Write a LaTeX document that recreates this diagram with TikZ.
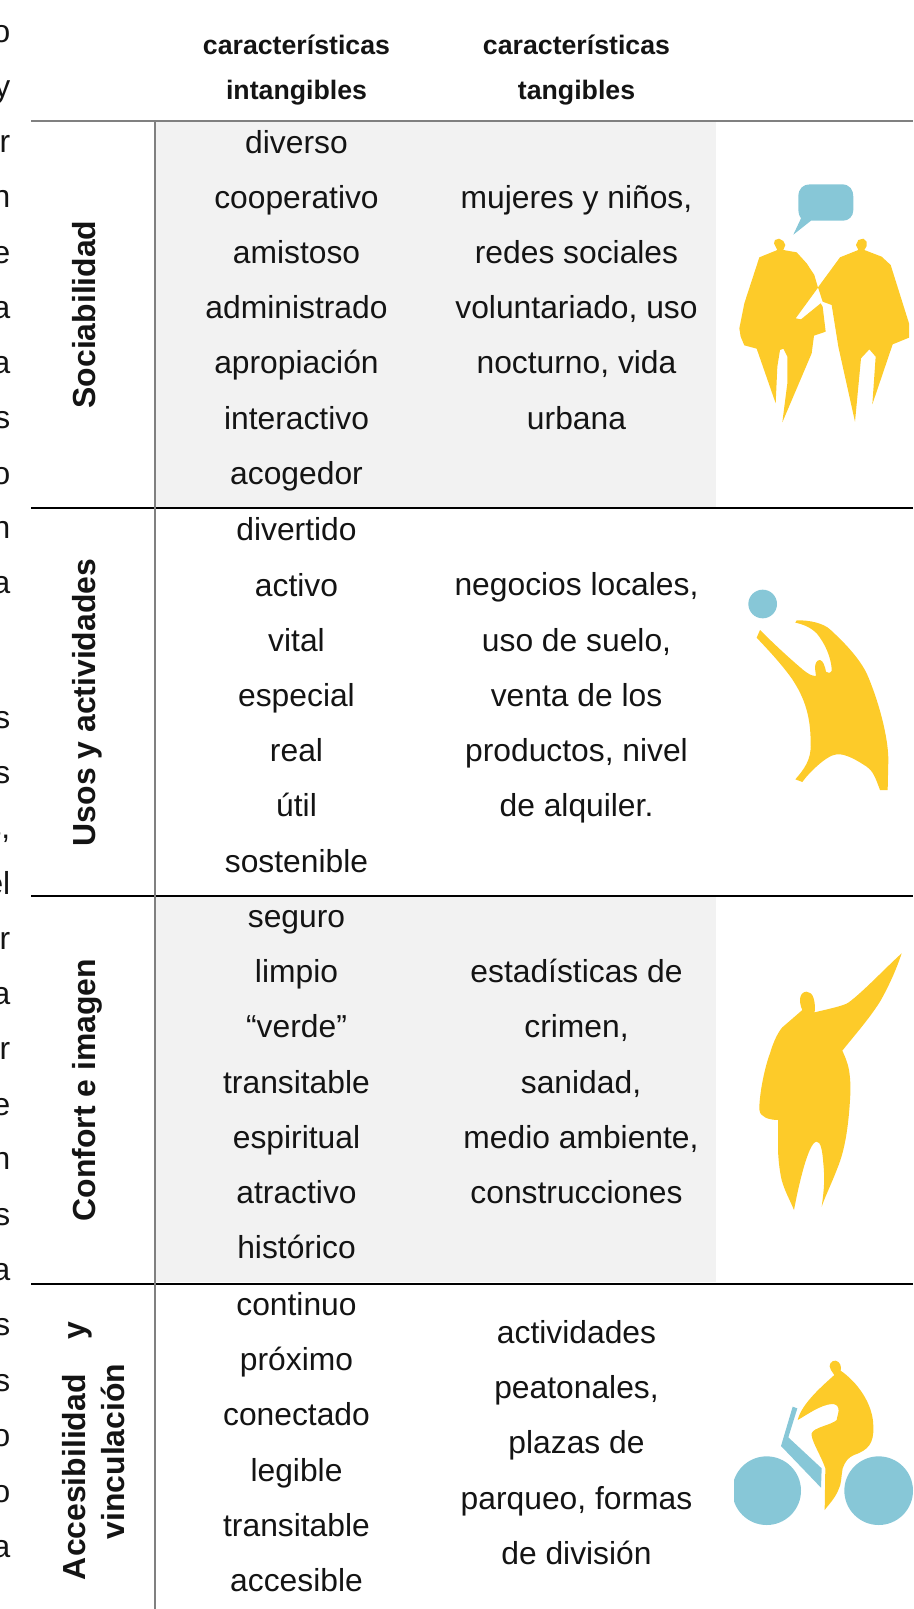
\documentclass[tikz,border=0pt]{standalone}
\usepackage{fontspec}
\setmainfont{Liberation Sans}
\definecolor{fig}{HTML}{FDCB29}
\definecolor{sky}{HTML}{87C7D7}
\definecolor{band}{HTML}{F2F2F2}
\definecolor{rule}{HTML}{808080}
\newcommand{\bodyfont}{\fontsize{31.8}{38}\selectfont}
\newcommand{\headfont}{\fontsize{26.7}{33}\selectfont\bfseries}
\newcommand{\sidefont}{\fontsize{31.9}{37}\selectfont\bfseries}
\tikzset{
  x=1pt,y=-1pt,
  body/.style={anchor=base,inner sep=0pt,font=\bodyfont,text=black!92},
  head/.style={anchor=base,inner sep=0pt,font=\headfont,text=black!92},
  side/.style={anchor=base,inner sep=0pt,font=\sidefont,rotate=90,text=black!92},
  cut/.style={anchor=base east,inner sep=0pt,font=\bodyfont,text=black!92},
  greyrule/.style={draw=rule,line width=1.6pt},
  blackrule/.style={draw=black,line width=1.6pt},
  yellowshape/.style={fill=fig,draw=none},
  blueshape/.style={fill=sky,draw=none},
  tiny3/.style={scale=1/3}
}
\begin{document}
\begin{tikzpicture}
\useasboundingbox (0,0) rectangle (913,1609);
\begin{scope}
\clip (0,0) rectangle (913,1609);
% bands
\fill[band] (156,121) rectangle (716,507);
\fill[band] (156,896) rectangle (716,1282);
% rules
\draw[greyrule] (31,121) -- (913,121);
\draw[blackrule] (31,508) -- (913,508);
\draw[blackrule] (31,896) -- (913,896);
\draw[blackrule] (31,1284) -- (913,1284);
\draw[greyrule] (155,121) -- (155,1609);
% cut-off letters of the neighbouring text
\foreach \yy/\tt [count=\n] in {42/o,97.3/y,152.5/r,207.7/n,263/e,318/a,373/a,428.5/s,484/o,538/n,593.5/a,728/s,783/s,838/{s,},894/el,949/r,1004/a,1059.5/r,1115/e,1169/n,1225/s,1280/a,1335/s,1391/s,1446/o,1502/o,1557/a}
  \node[cut] (cut\n) at (10.5,\yy) {\tt};
% header
\node[head] (h1a) at (296.5,54) {características};
\node[head] (h1b) at (296.5,99.5) {intangibles};
\node[head] (h2a) at (576.5,54) {características};
\node[head] (h2b) at (576.5,99.5) {tangibles};
% side labels
\node[side] (s1) at (95,314.5) {Sociabilidad};
\node[side] (s2) at (95,702.5) {Usos y actividades};
\node[side] (s3) at (95,1090) {Confort e imagen};
\node[side] (s4a) at (85,1451) {\makebox[258pt][s]{Accesibilidad\hfill y}};
\node[side] (s4b) at (124,1451.5) {vinculación};
% column 1
\foreach \tt [count=\n] in {diverso,cooperativo,amistoso,administrado,apropiación,interactivo,acogedor}
  \node[body] (a\n) at (296.5,{153+55.2*(\n-1)}) {\tt};
\foreach \tt [count=\n] in {divertido,activo,vital,especial,real,útil,sostenible}
  \node[body] (b\n) at (296.5,{540.8+55.2*(\n-1)}) {\tt};
\foreach \tt [count=\n] in {seguro,limpio,“verde”,transitable,espiritual,atractivo,histórico}
  \node[body] (c\n) at (296.5,{927.5+55.2*(\n-1)}) {\tt};
\foreach \tt [count=\n] in {continuo,próximo,conectado,legible,transitable,accesible}
  \node[body] (d\n) at (296.5,{1315.5+55.2*(\n-1)}) {\tt};
% column 2
\foreach \tt [count=\n] in {mujeres y niños{,},redes sociales,{voluntariado, uso},{nocturno, vida},urbana}
  \node[body] (e\n) at (576.5,{208.2+55.2*(\n-1)}) {\tt};
\foreach \tt [count=\n] in {negocios locales{,},uso de suelo{,},venta de los,{productos, nivel},de alquiler.}
  \node[body] (f\n) at (576.5,{595.8+55.2*(\n-1)}) {\tt};
\node[body] (g1) at (576.5,982.7) {estadísticas de};
\node[body] (g2) at (576.5,1037.9) {crimen,};
\node[body] (g3) at (581,1093.1) {sanidad,};
\node[body] (g4) at (581,1148.3) {medio ambiente,};
\node[body] (g5) at (576.5,1203.5) {construcciones};
\foreach \tt [count=\n] in {actividades,peatonales{,},plazas de,{parqueo, formas},de división}
  \node[body] (i\n) at (576.5,{1343.5+55.2*(\n-1)}) {\tt};
% figure 1
\begin{scope}[shift={(700,160)},tiny3]
\fill[blueshape] (295,110) .. controls (295,85) and (310,73) .. (330,73) -- (425,73) .. controls (450,73) and (460,90) .. (460,110) -- (460,150) .. controls (460,170) and (445,182) .. (430,182) -- (333,182) -- (280,224) -- (303,175) .. controls (297,165) and (295,160) .. (295,150) -- cycle;
\fill[yellowshape] (222,250) -- (225,240) -- (237,236) -- (250,243) -- (256,255) -- (250,270) -- (290,277) -- (320,310) -- (343,345) -- (354,383) -- (287,475) -- (303,478) -- (362,430) -- (368,440) -- (377,515) -- (342,527) -- (335,580) -- (247,787) -- (262,670) -- (262,590) -- (250,566) -- (240,570) -- (232,620) -- (227,730) -- (170,566) -- (133,556) -- (122,530) -- (118,505) -- (133,430) -- (178,292) -- (232,270) -- cycle;
\fill[yellowshape] (468,255) -- (475,240) -- (490,236) -- (500,245) -- (500,258) -- (493,270) -- (545,290) -- (572,315) -- (627,490) -- (627,533) -- (578,553) -- (517,733) -- (527,590) -- (508,568) -- (483,595) -- (465,785) -- (415,560) -- (395,435) -- (368,425) -- (354,382) -- (420,292) -- (475,270) -- cycle;
\end{scope}
% figure 2
\begin{scope}[shift={(720,570)},tiny3]
\fill[blueshape] (128,102) circle[radius=43];
\fill[yellowshape] (226,158) -- (230,151) .. controls (270,150) and (310,160) .. (330,178) .. controls (370,215) and (415,260) .. (440,310) .. controls (475,390) and (505,500) .. (505,570) -- (503,660) -- (480,660) .. controls (465,620) and (460,605) .. (440,590) .. controls (410,570) and (375,550) .. (350,553) .. controls (320,555) and (265,610) .. (247,636) -- (226,628) .. controls (250,600) and (275,570) .. (272,520) .. controls (272,440) and (255,385) .. (215,325) .. controls (175,270) and (130,225) .. (110,203) -- (120,180) .. controls (170,230) and (220,275) .. (250,300) .. controls (265,312) and (275,318) .. (288,318) -- (285,295) .. controls (285,280) and (290,270) .. (300,270) .. controls (310,272) and (315,290) .. (318,305) .. controls (325,310) and (338,310) .. (335,295) .. controls (332,260) and (315,220) .. (290,190) .. controls (270,170) and (245,162) .. (226,158) -- cycle;
\end{scope}
% figure 3
\begin{scope}[shift={(730,930)},tiny3]
\fill[yellowshape] (217,240) .. controls (205,215) and (208,185) .. (230,185) .. controls (250,185) and (257,215) .. (254,247) .. controls (290,238) and (340,228) .. (355,218) .. controls (400,185) and (470,110) .. (515,70) .. controls (495,130) and (470,180) .. (450,215) .. controls (415,270) and (370,320) .. (337,362) .. controls (345,380) and (352,395) .. (357,420) .. controls (362,450) and (362,480) .. (360,510) .. controls (355,590) and (345,660) .. (322,715) .. controls (305,760) and (285,800) .. (275,830) .. controls (282,780) and (285,750) .. (280,700) .. controls (277,660) and (272,635) .. (260,635) .. controls (235,635) and (205,770) .. (192,840) .. controls (175,800) and (165,785) .. (155,750) .. controls (148,720) and (144,680) .. (144,650) -- (144,570) .. controls (125,570) and (105,565) .. (100,558) .. controls (90,553) and (88,545) .. (88,530) .. controls (90,480) and (105,410) .. (120,370) .. controls (130,335) and (145,305) .. (157,292) -- cycle;
\end{scope}
% figure 4
\begin{scope}[shift={(720,1340)},tiny3]
\begin{scope}
\clip (42,300) rectangle (579,600);
\fill[blueshape] (140,452) circle[radius=103];
\fill[blueshape] (476,452) circle[radius=103];
\end{scope}
\fill[blueshape] (218,200) -- (232,205) -- (205,292) -- (305,385) -- (303,443) -- (183,318) -- cycle;
\fill[yellowshape] (333,90) .. controls (322,75) and (335,60) .. (347,62) .. controls (360,65) and (365,78) .. (362,92) .. controls (410,125) and (460,190) .. (460,260) .. controls (462,310) and (445,330) .. (402,345) .. controls (385,352) and (375,365) .. (368,385) .. controls (362,420) and (365,430) .. (355,450) .. controls (345,475) and (325,495) .. (314,510) -- (316,385) .. controls (300,340) and (272,300) .. (275,280) .. controls (280,262) and (335,255) .. (350,240) .. controls (352,225) and (358,215) .. (355,205) .. controls (353,195) and (345,192) .. (335,192) .. controls (300,195) and (260,225) .. (233,240) .. controls (245,190) and (310,135) .. (343,105) -- cycle;
\end{scope}
\end{scope}
\end{tikzpicture}
\end{document}
